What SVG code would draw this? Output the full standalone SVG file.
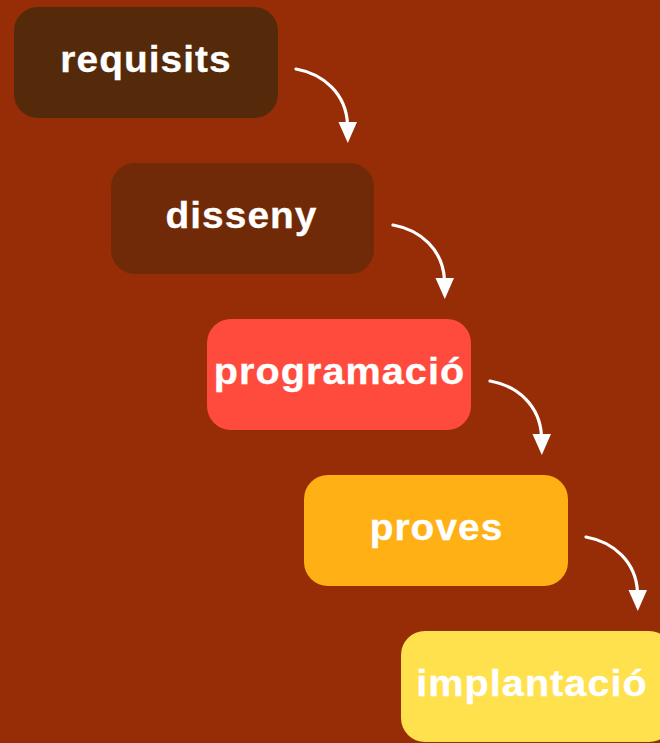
<svg xmlns="http://www.w3.org/2000/svg" xmlns:xlink="http://www.w3.org/1999/xlink" width="660" height="743" viewBox="0 0 660 743">
  <style>
    .box { stroke: none; }
    .lbl { font-family: "Liberation Sans", Arial, sans-serif; font-weight: bold; font-size: 37px; fill: #ffffff; stroke: #ffffff; stroke-width: 0.3px; text-anchor: middle; letter-spacing: 1px; }
    .conn { fill: none; stroke: #ffffff; stroke-width: 3.2; stroke-linecap: round; }
    .head { fill: #ffffff; }
  </style>
  <defs>
    <g id="arrow">
      <path class="conn" d="M296,69 C324,74 346,94 347.5,124"/>
      <polygon class="head" points="338.5,122 357,122 347.8,143"/>
    </g>
  </defs>
  <rect x="0" y="0" width="660" height="743" fill="#972d06"/>
  <g id="connectors">
    <use xlink:href="#arrow"/>
    <use xlink:href="#arrow" transform="translate(97,156)"/>
    <use xlink:href="#arrow" transform="translate(194,312)"/>
    <use xlink:href="#arrow" transform="translate(290,468)"/>
  </g>
  <g id="requisits">
    <rect class="box" x="14" y="7" width="264" height="111" rx="24" fill="#552a0a"/>
    <text class="lbl" transform="translate(146,72) scale(1.05,1)">requisits</text>
  </g>
  <g id="disseny">
    <rect class="box" x="111" y="163" width="263" height="111" rx="24" fill="#712a07"/>
    <text class="lbl" transform="translate(241.5,228) scale(1.05,1)">disseny</text>
  </g>
  <g id="programacio">
    <rect class="box" x="207" y="319" width="264" height="111" rx="24" fill="#ff4b3e"/>
    <text class="lbl" transform="translate(339.5,384) scale(1.07,1)">programació</text>
  </g>
  <g id="proves">
    <rect class="box" x="304" y="475" width="264" height="111" rx="24" fill="#ffb014"/>
    <text class="lbl" transform="translate(436.5,540) scale(1.05,1)">proves</text>
  </g>
  <g id="implantacio">
    <rect class="box" x="401" y="631" width="272" height="111" rx="24" fill="#ffe14d"/>
    <text class="lbl" transform="translate(532,696) scale(1.07,1)">implantació</text>
  </g>
</svg>
